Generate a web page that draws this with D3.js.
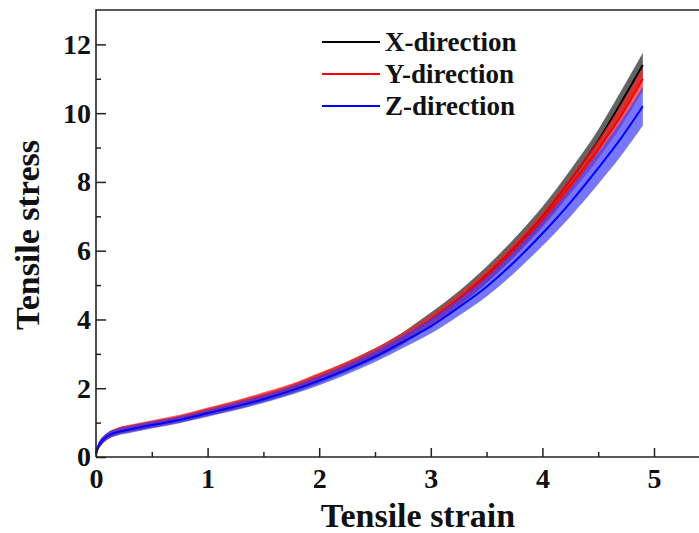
<!DOCTYPE html>
<html><head><meta charset="utf-8">
<script src="https://cdn.jsdelivr.net/npm/d3@7/dist/d3.min.js"></script>
<style>body{margin:0;background:#fff}svg{display:block}</style>
</head><body>
<svg id="c" width="699" height="533"></svg>
<script>
const strain = [0, 0.02, 0.05, 0.1, 0.2, 0.3, 0.5, 0.75, 1.0, 1.25, 1.5, 1.75, 2.0, 2.25, 2.5, 2.75, 3.0, 3.25, 3.5, 3.75, 4.0, 4.25, 4.5, 4.7, 4.9];
const stressX = [0.1, 0.3, 0.45, 0.6, 0.75, 0.82, 0.95, 1.1, 1.3, 1.5, 1.72, 1.97, 2.28, 2.62, 3.0, 3.45, 4.0, 4.6, 5.3, 6.1, 7.0, 8.05, 9.2, 10.28, 11.4];
const errX    = [0.06, 0.09, 0.1, 0.1, 0.1, 0.1, 0.1, 0.1, 0.11, 0.12, 0.12, 0.13, 0.14, 0.15, 0.16, 0.18, 0.2, 0.22, 0.24, 0.26, 0.28, 0.3, 0.32, 0.34, 0.36];
const stressY = [0.1, 0.3, 0.45, 0.6, 0.76, 0.84, 0.97, 1.13, 1.33, 1.53, 1.76, 2.01, 2.32, 2.65, 3.02, 3.46, 3.98, 4.57, 5.25, 6.03, 6.9, 7.9, 8.95, 9.9, 11.0];
const errY    = [0.06, 0.09, 0.1, 0.1, 0.1, 0.1, 0.1, 0.1, 0.11, 0.11, 0.12, 0.12, 0.13, 0.13, 0.14, 0.15, 0.16, 0.17, 0.18, 0.2, 0.22, 0.25, 0.28, 0.31, 0.34];
const stressZ = [0.1, 0.3, 0.45, 0.6, 0.73, 0.8, 0.93, 1.08, 1.27, 1.47, 1.68, 1.93, 2.22, 2.55, 2.92, 3.35, 3.8, 4.35, 4.95, 5.68, 6.5, 7.4, 8.4, 9.25, 10.2];
const errZ    = [0.06, 0.09, 0.1, 0.1, 0.1, 0.1, 0.1, 0.1, 0.1, 0.11, 0.11, 0.12, 0.13, 0.14, 0.16, 0.18, 0.21, 0.24, 0.28, 0.32, 0.36, 0.41, 0.46, 0.51, 0.56];
const seriesNames = ["X-direction", "Y-direction", "Z-direction"];
const xTicks = [0, 1, 2, 3, 4, 5];
const yTicks = [0, 2, 4, 6, 8, 10, 12];

const series = [
  {name: seriesNames[0], v: stressX, e: errX, line: "#000000", band: "rgba(40,40,40,0.72)"},
  {name: seriesNames[1], v: stressY, e: errY, line: "#ff0000", band: "rgba(255,30,30,0.7)"},
  {name: seriesNames[2], v: stressZ, e: errZ, line: "#0000ff", band: "rgba(60,60,255,0.7)"}
];

const svg = d3.select("#c");
const m = {left: 96, top: 10, bottom: 457};
const x = d3.scaleLinear().domain([0, 5.5]).range([m.left, m.left + 5.5 * 111.6]);
const y = d3.scaleLinear().domain([0, 13]).range([m.bottom, m.top]);
const font = "'Liberation Serif', 'Times New Roman', serif";

// bands and lines
const g = svg.append("g");
series.forEach(s => {
  const pts = strain.map((d, i) => ({x: d, v: s.v[i], e: s.e[i]}));
  const area = d3.area().x(d => x(d.x)).y0(d => y(d.v - d.e)).y1(d => y(d.v + d.e)).curve(d3.curveMonotoneX);
  g.append("path").attr("d", area(pts)).attr("fill", s.band);
  const line = d3.line().x(d => x(d.x)).y(d => y(d.v)).curve(d3.curveMonotoneX);
  g.append("path").attr("d", line(pts)).attr("fill", "none").attr("stroke", s.line).attr("stroke-width", 2);
});

// axes
const axisColor = "#222";
const xAxis = d3.axisBottom(x).tickValues(xTicks).tickSize(-9).tickPadding(11).tickFormat(d3.format("d"));
const xMinor = d3.axisBottom(x).tickValues(d3.range(0.5, 5.5, 1)).tickSize(-5).tickFormat("");
const yAxis = d3.axisLeft(y).tickValues(yTicks).tickSize(-10).tickPadding(5).tickFormat(d3.format("d"));
const yMinor = d3.axisLeft(y).tickValues(d3.range(1, 13, 2)).tickSize(-5).tickFormat("");

function style(sel) {
  sel.select(".domain").remove();
  sel.selectAll("line").attr("stroke", axisColor).attr("stroke-width", 1.5);
  sel.selectAll("text").attr("font-family", font).attr("font-weight", "bold").attr("font-size", 28).attr("fill", "#111");
}
svg.append("g").attr("transform", `translate(0,${m.bottom})`).call(xAxis).call(style);
svg.append("g").attr("transform", `translate(0,${m.bottom})`).call(xMinor).call(style);
svg.append("g").attr("transform", `translate(${m.left},0)`).call(yAxis).call(style);
svg.append("g").attr("transform", `translate(${m.left},0)`).call(yMinor).call(style);

// frame
svg.append("path").attr("d", `M${m.left},${m.bottom}H699M${m.left},${m.bottom}V${m.top}H699`)
  .attr("fill", "none").attr("stroke", axisColor).attr("stroke-width", 1.6);

// titles
svg.append("text").attr("x", 418).attr("y", 527).attr("text-anchor", "middle")
  .attr("font-family", font).attr("font-weight", "bold").attr("font-size", 34).attr("fill", "#111").text("Tensile strain");
svg.append("text").attr("transform", "translate(39,235) rotate(-90)").attr("text-anchor", "middle")
  .attr("font-family", font).attr("font-weight", "bold").attr("font-size", 34).attr("fill", "#111").text("Tensile stress");

// legend
const lg = svg.append("g");
series.forEach((s, i) => {
  const yy = 42 + i * 32;
  lg.append("line").attr("x1", 322).attr("x2", 380).attr("y1", yy).attr("y2", yy).attr("stroke", s.line).attr("stroke-width", 2);
  lg.append("text").attr("x", 385).attr("y", yy + 9).attr("font-family", font).attr("font-weight", "bold")
    .attr("font-size", 27).attr("fill", "#111").text(s.name);
});
</script>
</body></html>
